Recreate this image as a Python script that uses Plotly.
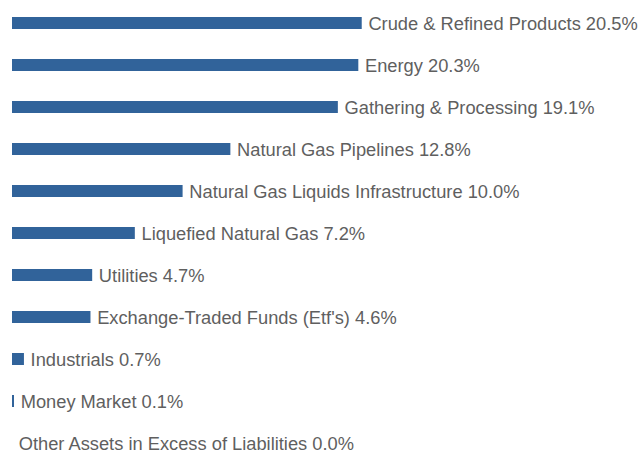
import plotly.graph_objects as go

categories = [
    "Crude & Refined Products",
    "Energy",
    "Gathering & Processing",
    "Natural Gas Pipelines",
    "Natural Gas Liquids Infrastructure",
    "Liquefied Natural Gas",
    "Utilities",
    "Exchange-Traded Funds (Etf's)",
    "Industrials",
    "Money Market",
    "Other Assets in Excess of Liabilities",
]
values = [20.5, 20.3, 19.1, 12.8, 10.0, 7.2, 4.7, 4.6, 0.7, 0.1, 0.0]

labels = [f"{c} {v:.1f}%" for c, v in zip(categories, values)]

W, H = 642, 453
left = 12
px_per_unit = 17.06
row = 42.0
first_center = 23

fig = go.Figure(
    go.Bar(
        x=values,
        y=categories,
        orientation="h",
        text=labels,
        texttemplate="\u2009%{text}",
        textposition="outside",
        constraintext="none",
        textfont=dict(family="Liberation Sans, Arial, sans-serif", size=18.3, color="#5f5f5f"),
        marker=dict(color="#31639a", line=dict(width=0)),
        width=12 / row,
        cliponaxis=False,
        hoverinfo="skip",
    )
)

top_val = -first_center / row
bottom_val = top_val + H / row
fig.update_layout(
    width=W,
    height=H,
    margin=dict(l=left, r=0, t=0, b=0),
    paper_bgcolor="white",
    plot_bgcolor="white",
    showlegend=False,
    xaxis=dict(range=[0, (W - left) / px_per_unit], visible=False, fixedrange=True),
    yaxis=dict(
        type="category",
        categoryorder="array",
        categoryarray=categories,
        range=[bottom_val, top_val],
        visible=False,
        fixedrange=True,
    ),
)

fig.write_html("out.html", config={"displayModeBar": False})
